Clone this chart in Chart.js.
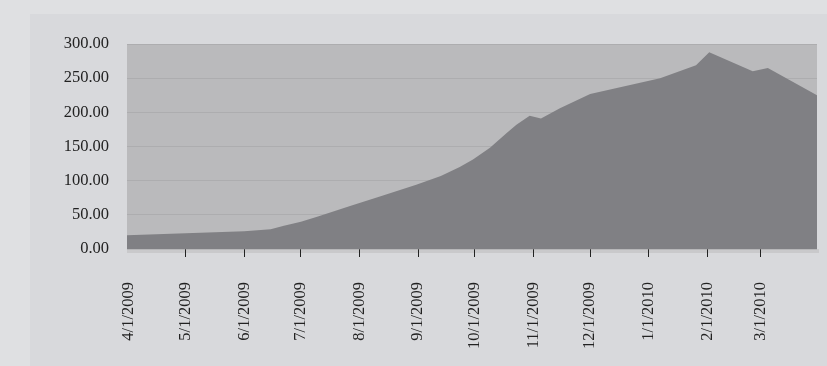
<!DOCTYPE html>
<html>
<head>
<meta charset="utf-8">
<script src="https://cdn.jsdelivr.net/npm/chart.js@4.4.1/dist/chart.umd.min.js"></script>
<style>
  html, body { margin: 0; padding: 0; background: #dfe0e2; }
  #wrap { width: 827px; height: 366px; position: relative; }
</style>
</head>
<body>
<div id="wrap"><canvas id="areaChart"></canvas></div>
<script>
// month labels on the x axis
const monthLabels = ['4/1/2009', '5/1/2009', '6/1/2009', '7/1/2009', '8/1/2009', '9/1/2009',
  '10/1/2009', '11/1/2009', '12/1/2009', '1/1/2010', '2/1/2010', '3/1/2010'];

// series
const pointDates = ['2009-03-31', '2009-05-01', '2009-06-01', '2009-06-15', '2009-06-22',
  '2009-07-01', '2009-07-10', '2009-07-27', '2009-08-13', '2009-08-31', '2009-09-13',
  '2009-09-23', '2009-09-30', '2009-10-09', '2009-10-18', '2009-10-23', '2009-10-30',
  '2009-11-05', '2009-11-15', '2009-12-01', '2010-01-07', '2010-01-26', '2010-02-02',
  '2010-02-25', '2010-03-05', '2010-03-31'];
const pointValues = [20, 23, 26, 29, 34, 40, 47.5, 63, 78, 94, 107, 120, 131, 148, 170,
  182, 195, 191, 206, 227, 250, 269, 288, 260, 265, 225];

const yTicks = [0, 50, 100, 150, 200, 250, 300];

const DAY = 864e5;
const start = Date.UTC(2009, 3, 1);
const toDay = iso => (Date.parse(iso) - start) / DAY;
const labelDay = lbl => {
  const [m, d, y] = lbl.split('/').map(Number);
  return (Date.UTC(y, m - 1, d) - start) / DAY;
};
const tickDays = monthLabels.map(labelDay);

// background: page panel + grey plot area
const backdrop = {
  id: 'backdrop',
  beforeDraw(chart) {
    const { ctx, chartArea: a } = chart;
    ctx.save();
    ctx.fillStyle = '#dfe0e2';
    ctx.fillRect(0, 0, chart.width, chart.height);
    ctx.fillStyle = '#d8d9dc';
    ctx.fillRect(30, 14, chart.width - 30, chart.height - 14);
    ctx.fillStyle = '#c9c9cb';
    ctx.fillRect(a.left, a.bottom, a.right - a.left + 2, 4);
    ctx.fillStyle = '#bababc';
    ctx.fillRect(a.left, a.top, a.right - a.left, a.bottom - a.top);
    ctx.restore();
  }
};

const ctx = document.getElementById('areaChart').getContext('2d');
const areaChart = new Chart(ctx, {
  type: 'line',
  data: {
    datasets: [{
      data: pointDates.map((d, i) => ({ x: toDay(d), y: pointValues[i] })),
      fill: 'origin',
      backgroundColor: '#808084',
      borderWidth: 0,
      pointRadius: 0,
      tension: 0
    }]
  },
  options: {
    responsive: true,
    maintainAspectRatio: false,
    animation: false,
    layout: { padding: { left: 0, top: 44, right: 10, bottom: 0 } },
    plugins: { legend: { display: false }, tooltip: { enabled: false } },
    scales: {
      x: {
        type: 'linear',
        min: -1,
        max: 364,
        afterBuildTicks: scale => { scale.ticks = tickDays.map(v => ({ value: v })); },
        afterFit: scale => { scale.height = 117; },
        border: { display: false },
        grid: {
          drawOnChartArea: false,
          drawTicks: true,
          tickLength: 8,
          color: ctx => ctx.index === 0 ? 'rgba(0,0,0,0)' : '#222',
          lineWidth: 1
        },
        ticks: {
          autoSkip: false,
          maxRotation: 90,
          minRotation: 90,
          padding: 25,
          color: '#222',
          font: { family: '"Liberation Serif", serif', size: 16.5 },
          callback: v => monthLabels[tickDays.indexOf(v)] || ''
        }
      },
      y: {
        min: 0,
        max: 300,
        afterBuildTicks: scale => { scale.ticks = yTicks.map(v => ({ value: v })); },
        afterFit: scale => { scale.width = 127; },
        border: { display: false },
        grid: { color: 'rgba(150,150,152,0.35)', drawTicks: false },
        ticks: {
          padding: 18,
          color: '#222',
          font: { family: '"Liberation Serif", serif', size: 16.5 },
          callback: v => v.toFixed(2)
        }
      }
    }
  },
  plugins: [backdrop]
});
</script>
</body>
</html>
